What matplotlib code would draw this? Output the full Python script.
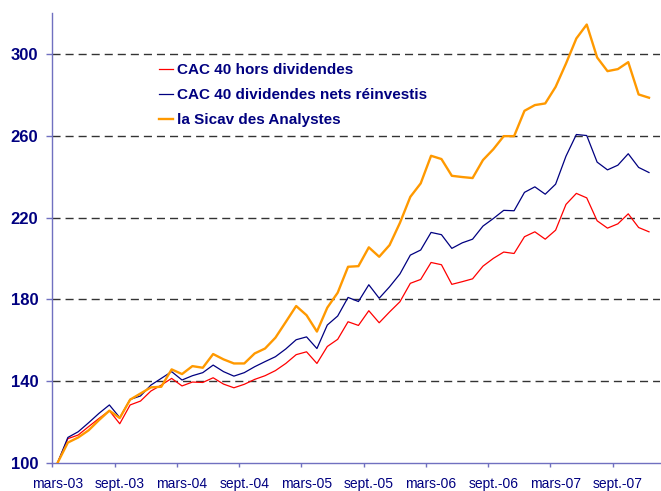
import matplotlib
matplotlib.use("Agg")
import matplotlib.pyplot as plt
import numpy as np

plt.rcParams["font.family"] = ["Liberation Sans", "DejaVu Sans"]

# mois en francais (abreviations Excel)
mois = ["janv.", "févr.", "mars", "avr.", "mai", "juin",
        "juil.", "août", "sept.", "oct.", "nov.", "déc."]

# serie mensuelle de mars-03 a dec.-07
dates = []
for annee in range(3, 8):
    for m in range(12):
        if annee == 3 and m < 2:
            continue
        dates.append(f"{mois[m]}-{annee:02d}")
dates = dates[:58]

cac_hors_div = [100, 111.9, 113.7, 117.8, 121.8, 125.6, 119.2, 128.4, 130.3, 135.2,
                138.1, 141.4, 137.7, 139.6, 139.4, 141.7, 138.6, 136.8, 138.5, 140.9,
                142.7, 145.2, 148.7, 153.0, 154.4, 148.7, 157.0, 160.5, 169.1, 167.3,
                174.5, 168.6, 173.9, 178.9, 187.9, 189.8, 198.1, 197.0, 187.4, 188.7,
                190.1, 196.3, 200.1, 203.2, 202.5, 210.7, 213.1, 209.5, 213.9, 226.5,
                231.9, 229.7, 218.5, 214.9, 217.0, 221.9, 215.2, 213.1]

cac_div_reinv = [100, 112.5, 115.3, 119.7, 124.3, 128.4, 122.2, 131.1, 132.8, 138.1,
                 141.4, 144.7, 140.6, 142.7, 144.2, 147.9, 144.7, 142.5, 144.2, 147.1,
                 149.6, 152.0, 155.8, 160.3, 161.7, 156.0, 167.5, 171.9, 181.0, 179.0,
                 187.2, 180.6, 186.2, 192.5, 201.7, 204.2, 212.8, 211.7, 205.0, 207.7,
                 209.5, 215.9, 219.6, 223.6, 223.4, 232.4, 235.1, 231.5, 236.4, 250.1,
                 260.7, 260.2, 247.2, 243.4, 245.7, 251.3, 244.6, 242.1]

sicav = [100, 110.0, 112.5, 116.0, 121.0, 125.6, 122.0, 131.0, 134.0, 137.0,
         137.3, 145.8, 143.5, 147.4, 146.6, 153.3, 150.7, 148.7, 148.7, 153.6,
         156.0, 161.3, 169.0, 176.8, 172.3, 164.3, 176.0, 183.3, 196.0, 196.3,
         205.5, 200.9, 206.6, 217.5, 230.2, 236.8, 250.3, 248.7, 240.5, 239.9,
         239.4, 248.2, 253.5, 259.9, 259.9, 272.3, 275.1, 275.9, 284.0, 295.4,
         307.7, 314.5, 298.4, 291.7, 292.7, 296.1, 280.3, 278.7]

y_ticks = [100, 140, 180, 220, 260, 300]

W, H = 661, 491
fig = plt.figure(figsize=(W / 100, H / 100), dpi=100)
ax = fig.add_axes([52.3 / W, 28 / H, (660 - 52.3) / W, (463 - 13.3) / H])

x = np.arange(len(dates))
navy = "#000080"

for yv in y_ticks[1:]:
    ax.axhline(yv, color="#333333", lw=1.0, linestyle=(0, (5.8, 3.6)), zorder=1)

ax.plot(x, cac_hors_div, color="#FF0000", lw=0.9, label="CAC 40 hors dividendes", zorder=3)
ax.plot(x, cac_div_reinv, color="#000080", lw=0.9, label="CAC 40 dividendes nets réinvestis", zorder=3)
ax.plot(x, sicav, color="#FF9900", lw=1.7, label="la Sicav des Analystes", zorder=4)

ax.set_xlim(-0.5, 58.06)
ax.set_ylim(100, 320)

ax.set_yticks(y_ticks)
ax.set_yticklabels([str(v) for v in y_ticks], fontsize=12, fontweight="bold", color=navy)
ax.tick_params(axis="y", length=4, width=1, color="#7070C0", pad=6)

ax.set_xticks(np.arange(-0.5, 58, 6))
ax.set_xticklabels([])
ax.set_xticks(x[::6], minor=True)
ax.set_xticklabels(dates[::6], minor=True, fontsize=10, color=navy)
ax.tick_params(axis="x", which="major", length=3, width=1, color="#7070C0")
ax.tick_params(axis="x", which="minor", length=0, pad=10)

for s in ["top", "right"]:
    ax.spines[s].set_visible(False)
for s in ["left", "bottom"]:
    ax.spines[s].set_color("#7070C0")
    ax.spines[s].set_linewidth(1)

leg = ax.legend(loc="upper left", bbox_to_anchor=(159 / W, (H - 63) / H),
                bbox_transform=fig.transFigure, frameon=False, borderpad=0,
                borderaxespad=0, handlelength=0.9, handletextpad=0.3,
                labelspacing=0.72, prop={"size": 11, "weight": "bold"})
for t in leg.get_texts():
    t.set_color(navy)

fig.savefig("out.png", dpi=100)
